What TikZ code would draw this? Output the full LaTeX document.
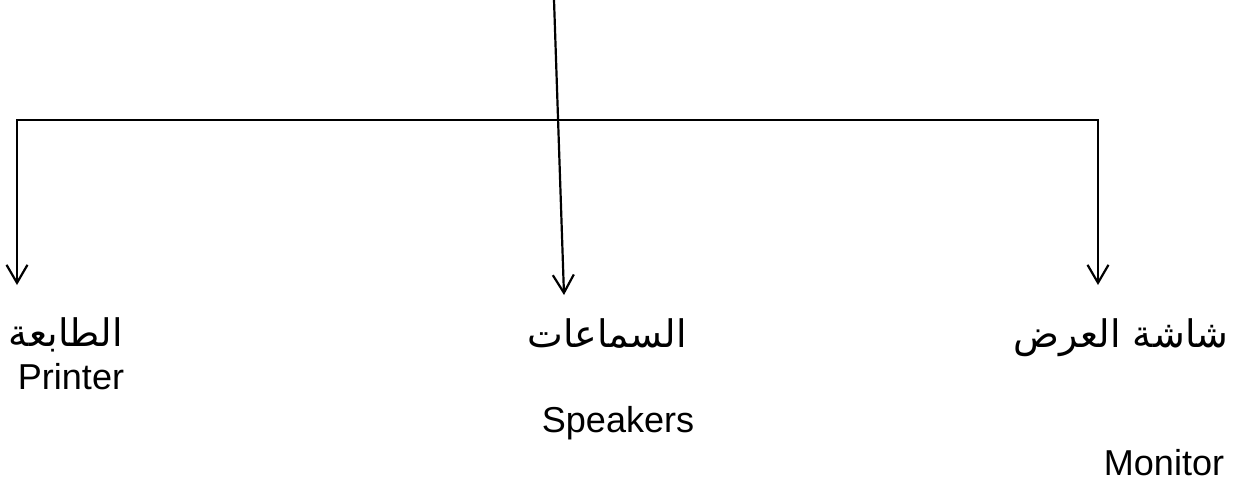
\documentclass[tikz,border=0pt]{standalone}
\usepackage{fontspec}
\setmainfont{Liberation Sans}
\newfontfamily\arabicfont[Script=Arabic]{DejaVu Sans}
\TeXXeTstate=1
\usetikzlibrary{arrows.meta}
\tikzset{
  lbl/.style={inner sep=0pt,anchor=base,font=\fontsize{20.5}{24}\selectfont},
  lblar/.style={inner sep=0pt,anchor=base,font=\fontsize{21.6}{26}\selectfont\arabicfont},
  link/.style={line width=1.25pt,black},
  % open barbs as in the drawing
  barb/.style={-{Straight Barb[length=3.6mm,width=4.2mm,line width=1.25pt]}},
  barbs/.style={{Straight Barb[length=3.6mm,width=4.2mm,line width=1.25pt]}-{Straight Barb[length=3.6mm,width=4.2mm,line width=1.25pt]}},
}
\begin{document}
\begin{tikzpicture}[x=0.02cm,y=-0.02cm]
  \useasboundingbox (0,0) rectangle (1250,486);
  % ---- points of the connectors ----
  \coordinate (src) at (554,0);
  \coordinate (jl) at (17,120);
  \coordinate (jr) at (1098,120);
  \coordinate (tipL) at (17,285);
  \coordinate (tipM) at (564,295);
  \coordinate (tipR) at (1098,285);
  % ---- branches ----
  \draw[link,barbs] (tipL) -- (jl) -- (jr) -- (tipR);
  \draw[link,barb] (src) -- (tipM);
  % ---- labels ----
  \node[lblar] (printerAr) at (66,346) {\beginR الطابعة\endR};
  \node[lbl] (printerEn) at (71,389) {Printer};
  \node[lblar] (speakAr) at (607,347) {\beginR السماعات\endR};
  \node[lbl] (speakEn) at (618,432) {Speakers};
  \node[lblar] (monAr) at (1121,347) {\beginR شاشة العرض\endR};
  \node[lbl] (monEn) at (1164,475) {Monitor};
\end{tikzpicture}
\end{document}
